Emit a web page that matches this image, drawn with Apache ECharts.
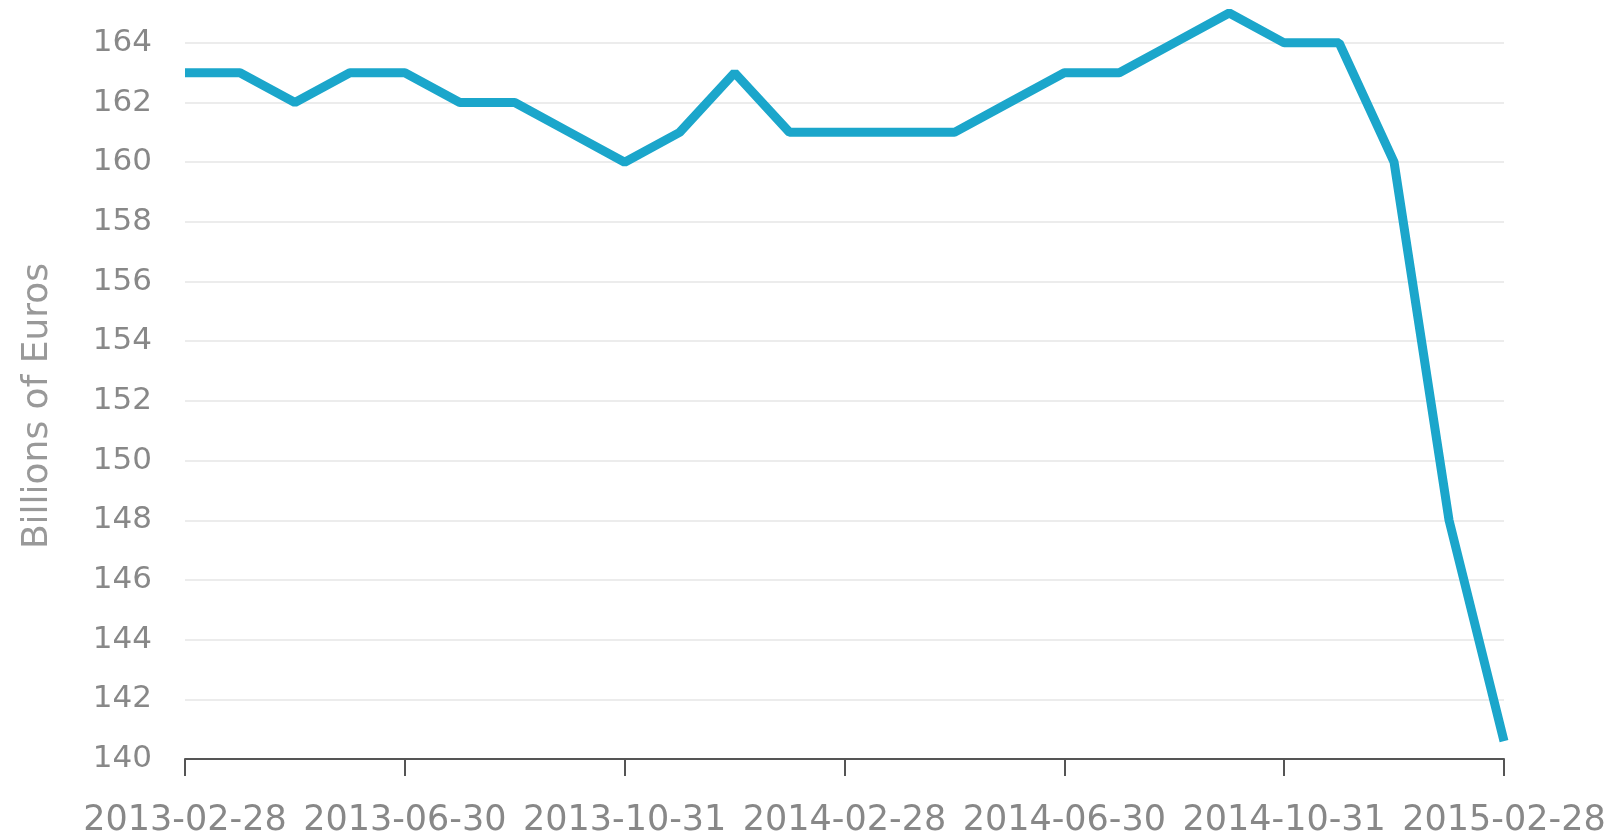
<!DOCTYPE html>
<html>
<head>
<meta charset="utf-8">
<script src="https://cdn.jsdelivr.net/npm/echarts@6/dist/echarts.min.js"></script>
<style>
  html, body { margin: 0; padding: 0; background: #fff; }
  #chart { width: 1610px; height: 838px; }
</style>
</head>
<body>
<div id="chart"></div>
<script>
  // month-end dates
  var dates = [
    '2013-02-28', '2013-03-31', '2013-04-30', '2013-05-31', '2013-06-30',
    '2013-07-31', '2013-08-31', '2013-09-30', '2013-10-31', '2013-11-30',
    '2013-12-31', '2014-01-31', '2014-02-28', '2014-03-31', '2014-04-30',
    '2014-05-31', '2014-06-30', '2014-07-31', '2014-08-31', '2014-09-30',
    '2014-10-31', '2014-11-30', '2014-12-31', '2015-01-31', '2015-02-28'
  ];
  // billions of euros
  var values = [
    163, 163, 162, 163, 163,
    162, 162, 161, 160, 161,
    163, 161, 161, 161, 161,
    162, 163, 163, 164, 165,
    164, 164, 160, 148, 140.6
  ];

  var chart = echarts.init(document.getElementById('chart'));
  var option = {
    animation: false,
    grid: { left: 185, right: 106, top: 13, bottom: 78 },
    xAxis: {
      type: 'category',
      data: dates,
      boundaryGap: false,
      axisLine: { lineStyle: { color: '#555', width: 2 } },
      axisTick: { interval: 3, length: 17, lineStyle: { color: '#555', width: 2 } },
      axisLabel: {
        interval: 3,
        margin: 44,
        color: '#888',
        fontFamily: 'DejaVu Sans',
        fontSize: 35
      },
      splitLine: { show: false }
    },
    yAxis: {
      type: 'value',
      min: 140,
      max: 165,
      interval: 2,
      name: 'Billions of Euros',
      nameLocation: 'middle',
      nameGap: 129,
      nameTextStyle: {
        color: '#999',
        fontFamily: 'DejaVu Sans',
        fontSize: 36,
        padding: [0, 40, 0, 0]
      },
      axisLine: { show: false },
      axisTick: { show: false },
      axisLabel: {
        margin: 33,
        color: '#888',
        fontFamily: 'DejaVu Sans',
        fontSize: 31,
        showMaxLabel: false
      },
      splitLine: { showMaxLine: false, lineStyle: { color: '#ececec', width: 2 } }
    },
    series: [{
      type: 'line',
      data: values,
      symbol: 'none',
      lineStyle: { color: '#1ba6cb', width: 9 }
    }]
  };
  chart.setOption(option);
</script>
</body>
</html>
